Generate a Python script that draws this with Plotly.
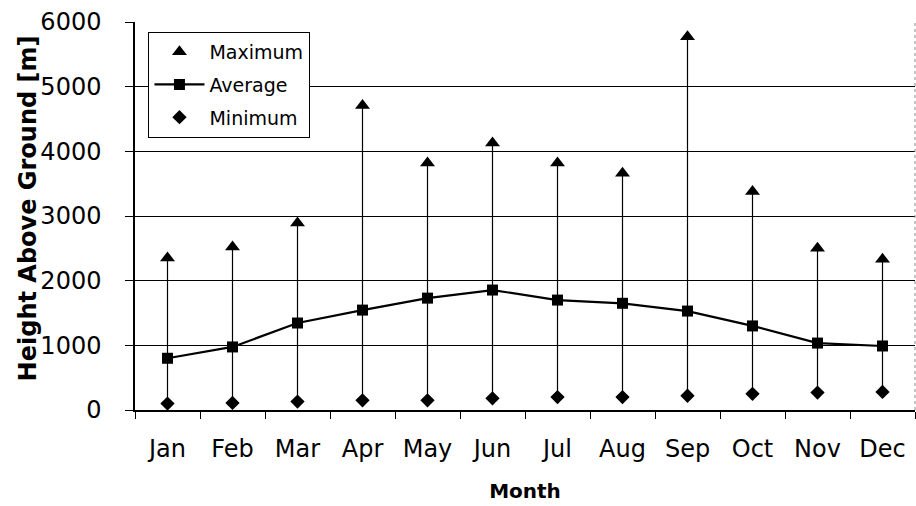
import plotly.graph_objects as go

months = ["Jan", "Feb", "Mar", "Apr", "May", "Jun", "Jul", "Aug", "Sep", "Oct", "Nov", "Dec"]
maximum = [2350, 2520, 2890, 4710, 3820, 4130, 3820, 3660, 5770, 3380, 2500, 2330]
average = [800, 975, 1345, 1545, 1730, 1855, 1700, 1650, 1530, 1300, 1035, 990]
minimum = [100, 110, 130, 150, 150, 180, 200, 200, 220, 250, 270, 280]
y_ticks = [0, 1000, 2000, 3000, 4000, 5000, 6000]

span = [mx - mn for mx, mn in zip(maximum, minimum)]

font_family = "DejaVu Sans, Liberation Sans, Arial, sans-serif"

fig = go.Figure()
fig.add_trace(go.Scatter(
    x=months, y=maximum, name="Maximum", mode="markers", legendgroup="max",
    marker=dict(symbol="triangle-up", size=13, color="black"),
))
fig.add_trace(go.Scatter(
    x=months, y=average, name="Average", mode="lines+markers", legendgroup="avg",
    line=dict(color="black", width=2.2),
    marker=dict(symbol="square", size=11, color="black"),
))
fig.add_trace(go.Scatter(
    x=months, y=minimum, name="Minimum", mode="markers", legendgroup="min",
    marker=dict(symbol="diamond", size=11, color="black"),
    error_y=dict(type="data", symmetric=False, array=span,
                 arrayminus=[0] * len(span), width=0, thickness=1.2, color="black"),
))

fig.update_layout(
    width=916, height=506,
    margin=dict(l=135, r=1, t=22, b=96, autoexpand=False),
    paper_bgcolor="white", plot_bgcolor="white",
    font=dict(family=font_family, color="black", size=18),
    showlegend=True,
    legend=dict(
        x=0.017, y=0.975, xanchor="left", yanchor="top",
        bgcolor="white", bordercolor="black", borderwidth=1.2,
        font=dict(size=19, family=font_family),
        itemwidth=50, tracegroupgap=5,
    ),
    xaxis=dict(
        type="category", categoryorder="array", categoryarray=months,
        showgrid=False, showline=True, linecolor="black", linewidth=1.5,
        ticks="outside", tickson="boundaries", ticklen=7, tickcolor="black",
        tickfont=dict(size=24), range=[-0.5, 11.5], automargin=False,
        ticklabelstandoff=16,
        title=dict(text="<b>Month</b>", font=dict(size=20), standoff=22),
    ),
    yaxis=dict(
        range=[0, 6000], tickvals=y_ticks, automargin=False,
        showgrid=True, gridcolor="black", gridwidth=1,
        showline=True, linecolor="black", linewidth=1.5,
        ticks="outside", ticklen=8, tickcolor="black",
        tickfont=dict(size=24), zeroline=False, ticklabelstandoff=19,
    ),
    annotations=[dict(
        text="<b>Height Above Ground [m]</b>", textangle=-90,
        xref="paper", yref="paper", x=-0.137, y=0.52,
        xanchor="center", yanchor="middle", showarrow=False,
        font=dict(size=24, family=font_family, color="black"),
    )],
    shapes=[dict(type="line", xref="paper", yref="paper", x0=1, x1=1, y0=0, y1=1,
                 line=dict(color="#888", width=1, dash="dot"))],
)

fig.write_html("out.html", config={"displayModeBar": False},
               post_script="document.body.style.margin='0';document.body.style.overflow='hidden';")
